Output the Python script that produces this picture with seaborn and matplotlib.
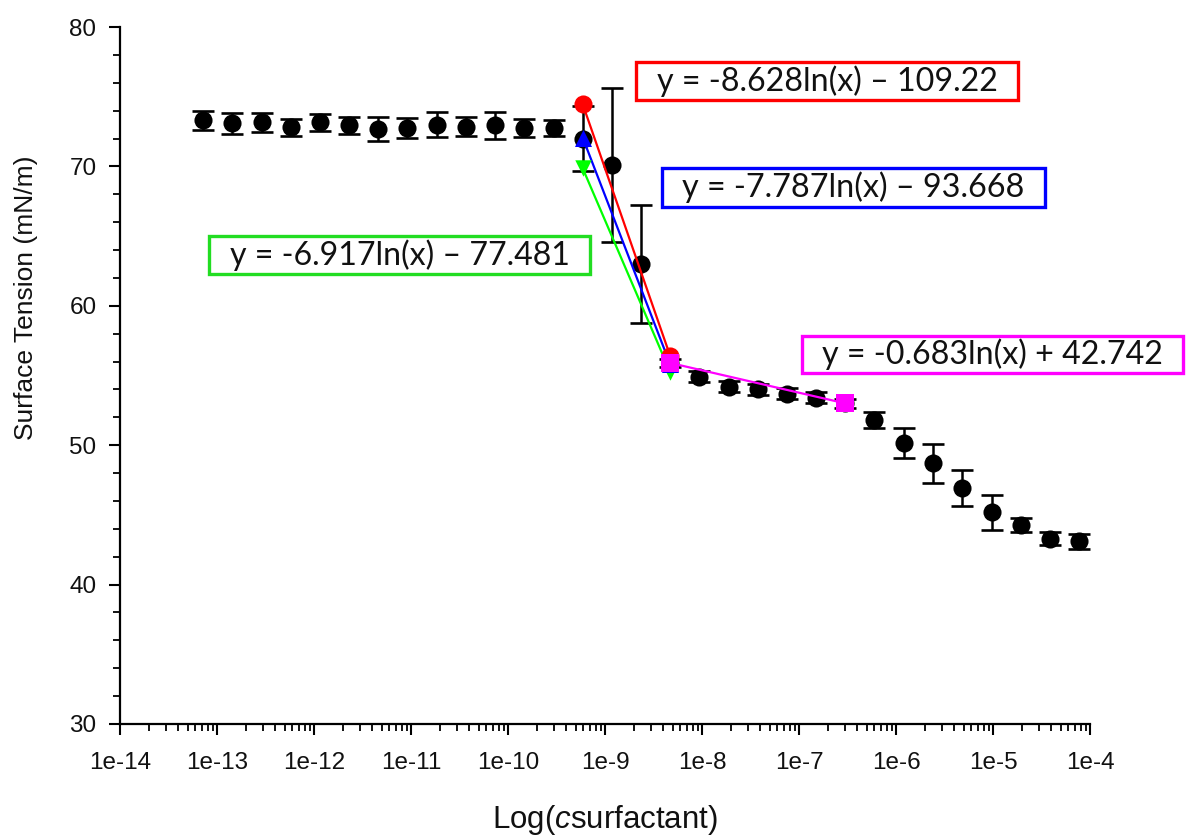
import numpy as np
import pandas as pd
import matplotlib
matplotlib.use("Agg")
import matplotlib.pyplot as plt
import matplotlib.patches as mpatches
from matplotlib.ticker import LogLocator, NullFormatter, MultipleLocator
import seaborn as sns

# ---------------- data ----------------
conc = [7.2e-14, 1.44e-13, 2.9e-13, 5.8e-13, 1.15e-12, 2.3e-12, 4.6e-12, 9.2e-12,
        1.84e-11, 3.7e-11, 7.4e-11, 1.47e-10, 2.95e-10, 5.9e-10, 1.18e-9, 2.36e-9,
        4.7e-9, 9.4e-9, 1.89e-8, 3.8e-8, 7.5e-8, 1.5e-7, 3.0e-7, 6.0e-7, 1.21e-6,
        2.4e-6, 4.8e-6, 9.7e-6, 1.93e-5, 3.9e-5, 7.7e-5]
tension = [73.3, 73.1, 73.15, 72.8, 73.15, 72.95, 72.7, 72.75, 73.0, 72.85, 72.95,
           72.75, 72.75, 72.0, 70.1, 63.0, 55.9, 54.9, 54.2, 54.0, 53.7, 53.4, 53.0,
           51.8, 50.15, 48.7, 46.95, 45.2, 44.25, 43.3, 43.1]
tension_err = [0.7, 0.75, 0.7, 0.6, 0.6, 0.6, 0.85, 0.7, 0.9, 0.7, 0.95, 0.65, 0.6,
               2.3, 5.5, 4.2, 0.3, 0.4, 0.4, 0.4, 0.4, 0.4, 0.3,
               0.6, 1.05, 1.4, 1.3, 1.25, 0.5, 0.45, 0.55]

fit_x = [5.9e-10, 4.7e-9]
red_y = [74.45, 56.4]
blue_y = [72.05, 55.8]
green_y = [69.85, 55.25]
magenta_x = [4.7e-9, 3.0e-7]
magenta_y = [55.9, 53.0]

eq_red = "y = -8.628ln(x) \u2013 109.22"
eq_blue = "y = -7.787ln(x) \u2013 93.668"
eq_green = "y = -6.917ln(x) \u2013 77.481"
eq_magenta = "y = -0.683ln(x) + 42.742"

xticks = [1e-14, 1e-13, 1e-12, 1e-11, 1e-10, 1e-9, 1e-8, 1e-7, 1e-6, 1e-5, 1e-4]
xticklabels = ["1e-14", "1e-13", "1e-12", "1e-11", "1e-10", "1e-9", "1e-8",
               "1e-7", "1e-6", "1e-5", "1e-4"]
yticks = [30, 40, 50, 60, 70, 80]

# ---------------- style ----------------
sns.set_style("ticks")
plt.rcParams['font.family'] = ['Liberation Sans', 'DejaVu Sans']
plt.rcParams['mathtext.fontset'] = 'custom'
plt.rcParams['mathtext.rm'] = 'Liberation Sans'
plt.rcParams['mathtext.it'] = 'Liberation Sans:italic'

W, H = 1186, 838
fig = plt.figure(figsize=(W / 100, H / 100), dpi=100)
L, R, T, B = 120, 1090, 27, 724
ax = fig.add_axes([L / W, 1 - B / H, (R - L) / W, (B - T) / H])

df = pd.DataFrame({"conc": conc, "tension": tension, "err": tension_err})

# error bars (black)
ax.errorbar(df["conc"], df["tension"], yerr=df["err"], fmt="none",
            ecolor="black", elinewidth=1.8, capsize=8, capthick=1.9, zorder=2)
# black points
sns.scatterplot(data=df, x="conc", y="tension", ax=ax, color="black", s=170,
                marker="o", edgecolor="black", linewidth=0, zorder=3, legend=False)

# fit lines
fits = pd.DataFrame({
    "x": fit_x * 3 + magenta_x,
    "y": red_y + blue_y + green_y + magenta_y,
    "fit": ["red"] * 2 + ["blue"] * 2 + ["green"] * 2 + ["magenta"] * 2,
})
pal = {"red": "#ff0000", "blue": "#0000ff", "green": "#00ff00", "magenta": "#ff00ff"}
sns.lineplot(data=fits, x="x", y="y", hue="fit", palette=pal, ax=ax,
             linewidth=1.6, legend=False, zorder=4, estimator=None, sort=False)

# fit end markers
sns.scatterplot(x=fit_x, y=green_y, ax=ax, color=pal["green"], marker="v", s=140,
                linewidth=0, zorder=5, legend=False)
sns.scatterplot(x=fit_x, y=red_y, ax=ax, color=pal["red"], marker="o", s=170,
                linewidth=0, zorder=5, legend=False)
sns.scatterplot(x=fit_x, y=blue_y, ax=ax, color=pal["blue"], marker="^", s=150,
                linewidth=0, zorder=6, legend=False)
sns.scatterplot(x=magenta_x, y=magenta_y, ax=ax, color=pal["magenta"], marker="s",
                s=150, linewidth=0, zorder=7, legend=False)

# axes
ax.set_xscale("log")
ax.set_xlim(1e-14, 1e-4)
ax.set_ylim(30, 80)
ax.set_xticks(xticks)
ax.set_xticklabels(xticklabels)
ax.xaxis.set_minor_locator(LogLocator(base=10, subs=np.arange(2, 10), numticks=100))
ax.xaxis.set_minor_formatter(NullFormatter())
ax.set_yticks(yticks)
ax.yaxis.set_minor_locator(MultipleLocator(2))
for s in ["top", "right"]:
    ax.spines[s].set_visible(False)
for s in ["left", "bottom"]:
    ax.spines[s].set_linewidth(1.6)
    ax.spines[s].set_color("black")
ax.tick_params(axis="both", which="major", length=8, width=1.5, color="black",
               labelsize=17.5, labelcolor="#111111")
ax.tick_params(axis="y", which="major", pad=9)
ax.tick_params(axis="x", which="major", pad=12)
ax.tick_params(axis="both", which="minor", length=5, width=1.3, color="black")
ax.grid(False)

ax.set_xlabel("Log($\\it{c}$surfactant)", fontsize=22.5, color="#111111")
ax.xaxis.set_label_coords(0.5, -(803 - B) / (B - T))
ax.set_ylabel("Surface Tension (mN/m)", fontsize=19, color="#111111")
ax.yaxis.set_label_coords((38 - L) / (R - L), 1 - (298 - T) / (B - T))

# equation boxes (pixel geometry of the reference)
boxes = [
    (eq_red, pal["red"], 636, 62, 1018, 100),
    (eq_blue, pal["blue"], 662, 168, 1045, 207),
    (eq_green, "#22dd22", 209, 236, 590, 274),
    (eq_magenta, pal["magenta"], 802, 336, 1183, 373),
]
fig.canvas.draw()
renderer = fig.canvas.get_renderer()
for txt, col, x0, y0, x1, y1 in boxes:
    rect = mpatches.Rectangle((x0 / W, 1 - y1 / H), (x1 - x0) / W, (y1 - y0) / H,
                              transform=fig.transFigure, facecolor="white",
                              edgecolor=col, linewidth=2.4, zorder=10)
    fig.patches.append(rect)
    t = fig.text((x0 + x1) / 2 / W, 1 - (y0 + y1) / 2 / H, txt, ha="center",
                 va="center", fontsize=20, family=["Lato", "DejaVu Sans"],
                 color="#111111", zorder=11)
    ext = t.get_window_extent(renderer)
    target = (x1 - x0) - 40
    t.set_fontsize(20 * target / ext.width)

fig.savefig("out.png", dpi=100)
